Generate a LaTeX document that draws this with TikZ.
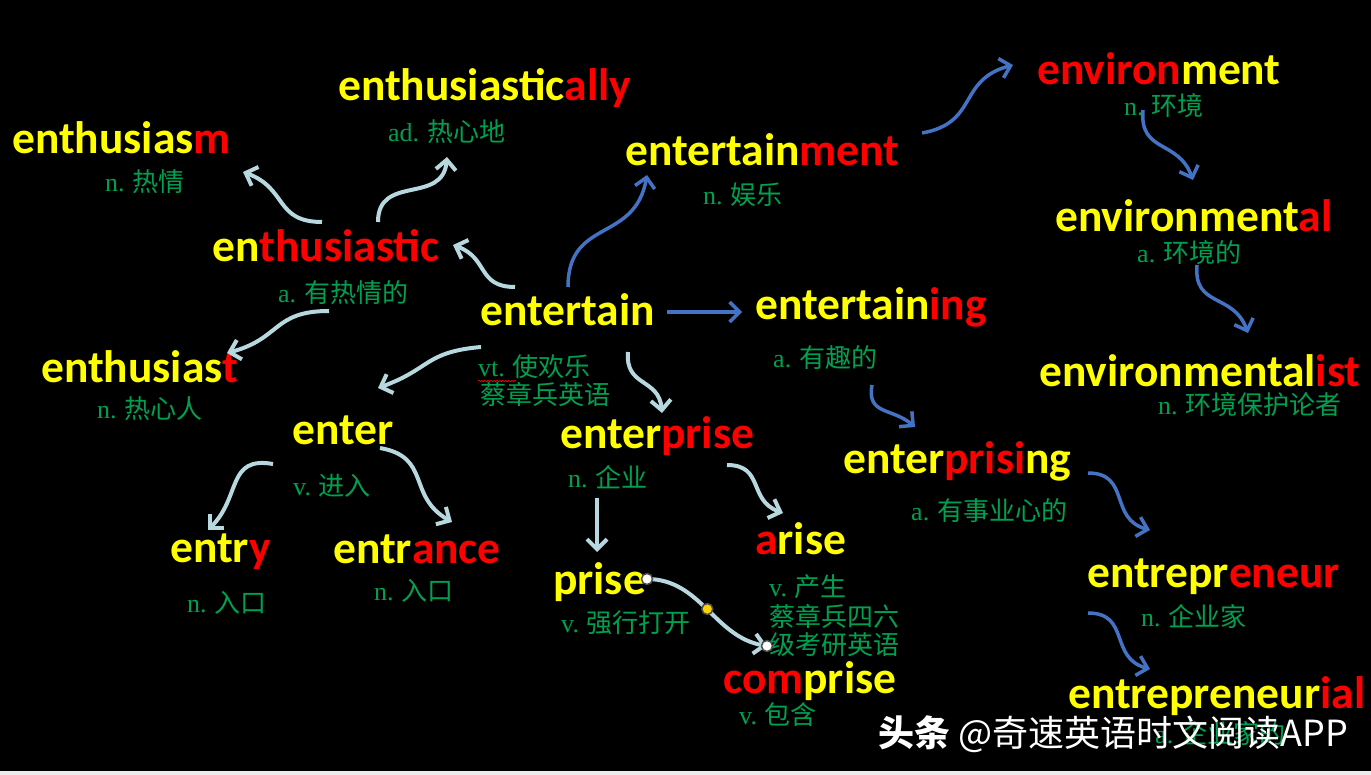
\documentclass[tikz,border=0pt]{standalone}
\usepackage{fontspec}
\setmainfont{Carlito}
\newfontfamily\glfont{Liberation Serif}
\newfontfamily\cjk{Noto Sans CJK SC}
\usetikzlibrary{arrows.meta,decorations.pathmorphing}
\definecolor{wordyellow}{RGB}{255,255,0}
\definecolor{wordred}{RGB}{255,0,0}
\definecolor{glossgreen}{RGB}{0,160,80}
\definecolor{paleblue}{RGB}{183,216,222}
\definecolor{linkblue}{RGB}{68,114,196}
\definecolor{handlegold}{RGB}{255,210,0}
\newcommand{\Y}[1]{\textcolor{wordyellow}{#1}}
\newcommand{\R}[1]{\textcolor{wordred}{#1}}
\newcommand{\gl}[2]{{\glfont #1} {\cjk #2}}
\tikzset{
  word/.style={anchor=base west,inner sep=0pt,font=\bfseries\fontsize{45.5}{54}\selectfont},
  gloss/.style={anchor=base west,inner sep=0pt,text=glossgreen,font=\fontsize{26}{30}\selectfont},
  derive/.style={draw=paleblue,line width=4pt,looseness=1.3,-{Straight Barb[length=10pt,width=20pt]}},
  link/.style={draw=linkblue,line width=3.5pt,looseness=1.3,-{Straight Barb[length=10pt,width=20pt]}},
  handle/.style={circle,draw=gray!60!black,line width=1.5pt,inner sep=0pt,minimum size=11pt}
}
\begin{document}
\begin{tikzpicture}[x=1pt,y=-1pt]
\fill[black] (0,0) rectangle (1371,775);
\fill[gray!15] (0,771) rectangle (1371,775);
\useasboundingbox (0,0) rectangle (1371,775);
% enthusiasm family
\node[word](enthusiasm) at (12,154) {\Y{enthusias}\R{m}};
\node[gloss](enthusiasmgl) at (105,192) {\gl{n.}{热情}};
\node[word](enthusiastically) at (338,101) {\Y{enthusiastic}\R{ally}};
\node[gloss](enthusiasticallygl) at (388,142) {\gl{ad.}{热心地}};
\node[word](enthusiastic) at (212,262) {\Y{en}\R{thusiastic}};
\node[gloss](enthusiasticgl) at (278,303) {\gl{a.}{有热情的}};
\node[word](enthusiast) at (41,383) {\Y{enthusias}\R{t}};
\node[gloss](enthusiastgl) at (97,418) {\gl{n.}{热心人}};
% centre
\node[word](entertain) at (480,326) {\Y{entertain}};
\node[gloss](entertaingl) at (478,377) {\gl{vt.}{使欢乐}};
\node[gloss](entertainnote) at (480,405) {\cjk 蔡章兵英语};
\draw[red,line width=0.6pt,decorate,decoration={snake,amplitude=0.8pt,segment length=3pt}]
  ([shift={(0,4)}]entertaingl.base west) -- ([shift={(38,4)}]entertaingl.base west);
% enter family
\node[word](enter) at (292,445) {\Y{enter}};
\node[gloss](entergl) at (293,495) {\gl{v.}{进入}};
\node[word](entry) at (170,562) {\Y{entr}\R{y}};
\node[gloss](entrygl) at (187,612) {\gl{n.}{入口}};
\node[word](entrance) at (333,563) {\Y{entr}\R{ance}};
\node[gloss](entrancegl) at (374,600) {\gl{n.}{入口}};
% enterprise family
\node[word](enterprise) at (560,448) {\Y{enter}\R{prise}};
\node[gloss](enterprisegl) at (568,487) {\gl{n.}{企业}};
\node[word](arise) at (755,554) {\R{a}\Y{rise}};
\node[gloss](arisegl) at (769,596) {\gl{v.}{产生}};
\node[gloss](arisenote) at (769,626) {\cjk 蔡章兵四六};
\node[gloss](arisenotetwo) at (769,654) {\cjk 级考研英语};
\node[word](prise) at (553,594) {\Y{prise}};
\node[gloss](prisegl) at (561,632) {\gl{v.}{强行打开}};
\node[word](comprise) at (723,693) {\R{com}\Y{prise}};
\node[gloss](comprisegl) at (739,724) {\gl{v.}{包含}};
% entertainment / environment
\node[word](entertainment) at (625,166) {\Y{entertain}\R{ment}};
\node[gloss](entertainmentgl) at (703,205) {\gl{n.}{娱乐}};
\node[word](environment) at (1037,85) {\R{environ}\Y{ment}};
\node[gloss](environmentgl) at (1124,116) {\gl{n.}{环境}};
\node[word](environmental) at (1055,232) {\Y{environment}\R{al}};
\node[gloss](environmentalgl) at (1137,263) {\gl{a.}{环境的}};
\node[word](environmentalist) at (1039,387) {\Y{environmental}\R{ist}};
\node[gloss](environmentalistgl) at (1158,414) {\gl{n.}{环境保护论者}};
% entertaining / entrepreneur
\node[word](entertaining) at (755,320) {\Y{entertain}\R{ing}};
\node[gloss](entertaininggl) at (773,368) {\gl{a.}{有趣的}};
\node[word](enterprising) at (843,473) {\Y{enter}\R{prisi}\Y{ng}};
\node[gloss](enterprisinggl) at (911,520) {\gl{a.}{有事业心的}};
\node[word](entrepreneur) at (1087,587) {\Y{entrepr}\R{eneur}};
\node[gloss](entrepreneurgl) at (1141,626) {\gl{n.}{企业家}};
\node[word](entrepreneurial) at (1068,708) {\Y{entrepreneur}\R{ial}};
\node[gloss](entrepreneurialgl) at (1155,743) {\gl{a.}{企业家的}};
% pale arrows
\draw[derive] ([shift={(110,-40)}]enthusiastic.base west) to[out=180,in=-20]
  ([shift={(231,18)}]enthusiasm.base west);
\draw[derive] ([shift={(166,-40)}]enthusiastic.base west) to[out=90,in=-95]
  ([shift={(59,15)}]enthusiasticallygl.base west);
\draw[derive] ([shift={(35,-39)}]entertain.base west) to[out=180,in=-20]
  ([shift={(241,-17)}]enthusiastic.base west);
\draw[derive] ([shift={(51,8)}]enthusiasticgl.base west) to[out=180,in=15]
  ([shift={(186,-30)}]enthusiast.base west);
\draw[derive] ([shift={(1,21)}]entertain.base west) to[out=185,in=20]
  ([shift={(86,-57)}]enter.base west);
\draw[derive] ([shift={(-19,19)}]enter.base west) to[out=170,in=45]
  ([shift={(38,-32)}]entry.base west);
\draw[derive] ([shift={(88,3)}]enter.base west) to[out=-10,in=150]
  ([shift={(119,-41)}]entrance.base west);
\draw[derive] ([shift={(148,26)}]entertain.base west) to[out=-95,in=95]
  ([shift={(102,-35)}]enterprise.base west);
\draw[derive] ([shift={(37,50)}]enterprise.base west) --
  ([shift={(44,-42)}]prise.base west);
\draw[derive] ([shift={(167,17)}]enterprise.base west) to[out=0,in=160]
  ([shift={(28,-41)}]arise.base west);
\draw[derive,looseness=1] ([shift={(94,-15)}]prise.base west) to[out=0,in=170]
  node[handle,fill=white,pos=0]{} node[handle,fill=handlegold,pos=0.5]{}
  node[handle,fill=white,pos=1]{} ([shift={(44,-47)}]comprise.base west);
% blue arrows
\draw[link] ([shift={(88,-39)}]entertain.base west) to[out=90,in=-100]
  ([shift={(22,9)}]entertainment.base west);
\draw[link] ([shift={(187,-14)}]entertain.base west) --
  ([shift={(-13,-8)}]entertaining.base west);
\draw[link] ([shift={(297,-33)}]entertainment.base west) to[out=10,in=195]
  ([shift={(-24,-20)}]environment.base west);
\draw[link] ([shift={(19,-6)}]environmentgl.base west) to[out=-95,in=110]
  ([shift={(138,-52)}]environmental.base west);
\draw[link] ([shift={(60,2)}]environmentalgl.base west) to[out=-95,in=110]
  ([shift={(209,-54)}]environmentalist.base west);
\draw[link] ([shift={(99,17)}]entertaininggl.base west) to[out=-100,in=140]
  ([shift={(72,-46)}]enterprising.base west);
\draw[link] ([shift={(245,0)}]enterprising.base west) to[out=0,in=165]
  ([shift={(63,-57)}]entrepreneur.base west);
\draw[link] ([shift={(1,26)}]entrepreneur.base west) to[out=0,in=165]
  ([shift={(82,-39)}]entrepreneurial.base west);
% watermark
\node[anchor=base west,inner sep=0pt,text=white,font=\cjk\fontsize{36}{42}\selectfont](mark)
  at (878,746) {\textbf{头条} @奇速英语时文阅读APP};
\end{tikzpicture}
\end{document}
